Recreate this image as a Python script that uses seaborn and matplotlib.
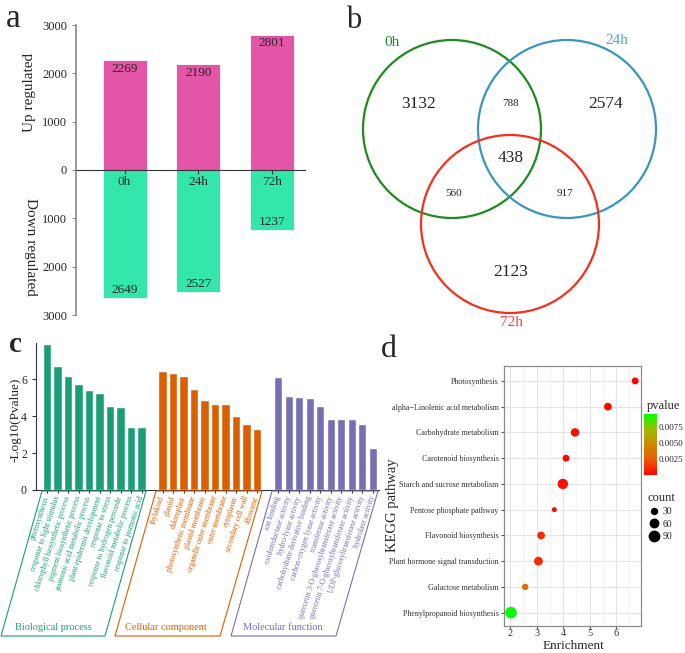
import numpy as np
import pandas as pd
import seaborn as sns
import matplotlib.pyplot as plt
from matplotlib.patches import Circle, Polygon
from matplotlib.colors import LinearSegmentedColormap, Normalize
from matplotlib.cm import ScalarMappable
from matplotlib.lines import Line2D
from matplotlib.ticker import FuncFormatter

# ---- panel a : up / down regulated genes
TIMES = ["0h", "24h", "72h"]
UP = [2269, 2190, 2801]
DOWN = [2649, 2527, 1237]

# ---- panel b : venn counts
VENN_REGIONS = ["0h", "0h&24h", "24h", "all", "0h&72h", "24h&72h", "72h"]
VENN_COUNTS = [3132, 788, 2574, 438, 560, 917, 2123]

# ---- panel c : GO enrichment
BP_TERMS = ["photosynthesis", "response to light stimulus", "chlorophyll biosynthetic process",
            "pigment biosynthetic process", "jasmonic acid metabolic process",
            "plant epidermis development", "response to stress", "response to hydrogen peroxide",
            "flavonoid metabolic process", "response to jasmonic acid"]
BP_VALS = [7.89, 6.70, 6.16, 5.71, 5.41, 5.23, 4.56, 4.50, 3.39, 3.39]
CC_TERMS = ["thylakoid", "plastid", "chloroplast", "photosynthetic membrane", "plastid membrane",
            "organelle outer membrane", "outer membrane", "cytoplasm", "secondary cell wall",
            "ribosome"]
CC_VALS = [6.45, 6.32, 6.14, 5.46, 4.86, 4.65, 4.65, 4.02, 3.57, 3.30]
MF_TERMS = ["ion binding", "oxidoreductase activity", "hydro-lyase activity",
            "carbohydrate derivative binding", "carbon-oxygen lyase activity",
            "transferase activity", "quercetin 3-O-glucosyltransferase activity",
            "quercetin 7-O-glucosyltransferase activity", "UDP-glucosyltransferase activity",
            "hydrolase activity"]
MF_VALS = [6.09, 5.08, 5.05, 4.95, 4.56, 3.84, 3.84, 3.84, 3.55, 2.27]
GO_GROUPS = ["Biological process", "Cellular component", "Molecular function"]

# ---- panel d : KEGG enrichment
PATHWAYS = ["Photosynthesis", "alpha\u2212Linolenic acid metabolism", "Carbohydrate metabolism",
            "Carotenoid biosynthesis", "Starch and sucrose metabolism", "Pentose phosphate pathway",
            "Flavonoid biosynthesis", "Plant hormone signal transduction", "Galactose metabolism",
            "Phenylpropanoid biosynthesis"]
ENRICH = [6.72, 5.69, 4.45, 4.11, 3.99, 3.67, 3.17, 3.07, 2.57, 2.03]
PVALUE = [0.0001, 0.0002, 0.0003, 0.0003, 0.0004, 0.0002, 0.0012, 0.0011, 0.0036, 0.0095]
COUNT = [40, 50, 60, 40, 90, 20, 50, 65, 35, 115]
COUNT_LEGEND = [30, 60, 90]
PV_TICKS = [0.0025, 0.0050, 0.0075]

UP_COLOUR = "#E255A7"
DOWN_COLOUR = "#33E7AC"
GO_COLOURS = {"Biological process": "#1B9E77", "Cellular component": "#D95F02",
              "Molecular function": "#7570B3"}
VENN_COLOURS = {"0h": "#1E8B1E", "24h": "#3B96BE", "72h": "#F2301E"}
VENN_TEXT = {"0h": "#1E8B1E", "24h": "#5BA0D0", "72h": "#F04040"}

sns.set_style("white")
plt.rcParams["font.family"] = ["Liberation Serif", "DejaVu Serif"]

W, H = 685, 653
fig = plt.figure(figsize=(W / 100, H / 100), dpi=100)


def px_axes(x0, y0, x1, y1):
    return fig.add_axes([x0 / W, 1 - y1 / H, (x1 - x0) / W, (y1 - y0) / H])


# ================= a =================
ax_a = px_axes(76, 25, 305, 315)
df_a = pd.DataFrame({"time": TIMES, "up": UP, "down": [-d for d in DOWN]})
sns.barplot(data=df_a, x="time", y="up", color=UP_COLOUR, width=0.6, saturation=1,
            errorbar=None, edgecolor="white", linewidth=0.6, ax=ax_a)
sns.barplot(data=df_a, x="time", y="down", color=DOWN_COLOUR, width=0.6, saturation=1,
            errorbar=None, edgecolor="white", linewidth=0.6, ax=ax_a)
for i, (u, d) in enumerate(zip(UP, DOWN)):
    ax_a.text(i, u - 50, str(u), ha="center", va="top", fontsize=9.5)
    ax_a.text(i, -d + 40, str(d), ha="center", va="bottom", fontsize=9.5)
ax_a.set_axisbelow(False)
ax_a.set_ylim(-3000, 3000)
ax_a.set_xlim(-0.66, 2.45)
ax_a.set_yticks(np.arange(-3000, 3001, 1000))
ax_a.yaxis.set_major_formatter(FuncFormatter(lambda v, p: f"{abs(int(v))}"))
ax_a.spines["bottom"].set_position(("data", 0))
ax_a.spines["bottom"].set_color("#333333")
ax_a.spines["left"].set_color("#888888")
ax_a.spines["left"].set_linewidth(1.2)
for s in ["top", "right"]:
    ax_a.spines[s].set_visible(False)
ax_a.tick_params(axis="y", length=3, labelsize=9, color="#888888", left=True)
ax_a.tick_params(axis="x", length=3, labelsize=9.5, pad=1, bottom=True, color="#333333")
ax_a.set_xlabel("")
ax_a.set_ylabel("")

# ================= c =================
ax_c = px_axes(36, 343, 379, 490)
pos = list(range(10)) + list(range(11, 21)) + list(range(22, 32))
df_c = pd.DataFrame({
    "pos": pos,
    "term": BP_TERMS + CC_TERMS + MF_TERMS,
    "value": BP_VALS + CC_VALS + MF_VALS,
    "group": [GO_GROUPS[0]] * 10 + [GO_GROUPS[1]] * 10 + [GO_GROUPS[2]] * 10,
})
sns.barplot(data=df_c, x="pos", y="value", hue="group", palette=GO_COLOURS, native_scale=True,
            width=0.79, dodge=False, saturation=1, legend=False, ax=ax_c)
ax_c.set_xlim(-1.05, 31.6)
ax_c.set_ylim(0, 7.95)
ax_c.set_yticks([0, 2, 4, 6])
ax_c.set_xticks(pos)
ax_c.set_xticklabels(df_c["term"], rotation=72, ha="right", va="center",
                     rotation_mode="anchor", fontsize=5.5)
for lab, g in zip(ax_c.get_xticklabels(), df_c["group"]):
    lab.set_color(GO_COLOURS[g])
ax_c.tick_params(axis="x", length=2.5, pad=2, bottom=True, color="#333333")
ax_c.tick_params(axis="y", length=3, labelsize=8.5, left=True, color="#333333")
for s in ["top", "right"]:
    ax_c.spines[s].set_visible(False)
ax_c.spines["left"].set_color("#333333")
ax_c.spines["bottom"].set_color("#333333")
ax_c.set_xlabel("")
ax_c.set_ylabel("-Log10(Pvalue)", fontsize=9.5)
ax_c.yaxis.set_label_coords((22 - 36) / 343, 0.48)

# ================= d =================
ax_d = px_axes(504, 366, 641, 626)
pv_cmap = LinearSegmentedColormap.from_list(
    "pv", ["#FF0000", "#EA5A00", "#CC8A00", "#9EBC00", "#00FF00"])
pv_norm = Normalize(0, 0.0096)
df_d = pd.DataFrame({"pathway": PATHWAYS, "enrichment": ENRICH, "pvalue": PVALUE,
                     "count": COUNT})
sns.scatterplot(data=df_d, x="enrichment", y="pathway", hue="pvalue", size="count",
                palette=pv_cmap, hue_norm=pv_norm, sizes=(0.62 * 20, 0.62 * 120),
                size_norm=(20, 120), legend=False, edgecolor="none", zorder=3, ax=ax_d)
ax_d.set_xlim(1.77, 6.94)
ax_d.set_ylim(9.52, -0.58)
ax_d.set_xticks([2, 3, 4, 5, 6])
ax_d.set_xticks(np.arange(2.5, 7.0, 1.0), minor=True)
ax_d.set_axisbelow(True)
ax_d.grid(which="major", color="#E2E2E8", lw=0.8)
ax_d.grid(which="minor", axis="x", color="#EFEFF3", lw=0.5)
ax_d.tick_params(axis="y", labelsize=5.8, length=2.5, left=True, pad=1.5,
                 color="#555555", labelcolor="#333333")
ax_d.tick_params(axis="x", labelsize=7.5, length=2, bottom=True, pad=0.5,
                 color="#555555", labelcolor="#333333")
ax_d.tick_params(which="minor", length=0)
for s in ax_d.spines.values():
    s.set_color("#8A8A8A")
    s.set_linewidth(0.9)
ax_d.set_xlabel("Enrichment", fontsize=9.5)
ax_d.set_ylabel("KEGG pathway", fontsize=10.5)
ax_d.xaxis.set_label_coords((573 - 504) / 137, -(640 - 626) / 260)
ax_d.yaxis.set_label_coords((399 - 504) / 137, (626 - 505) / 260)

cax = px_axes(644, 414, 657, 475)
cb = fig.colorbar(ScalarMappable(norm=pv_norm, cmap=pv_cmap), cax=cax, ticks=PV_TICKS)
cb.outline.set_visible(False)
cb.ax.tick_params(labelsize=6.5, length=3, color="white", direction="in", pad=1.5)
cb.ax.yaxis.set_major_formatter(FuncFormatter(lambda v, p: f"{v:.4f}"))
fig.text(647 / W, 1 - 409 / H, "pvalue", fontsize=9, ha="left", va="baseline")

handles = [Line2D([], [], ls="", marker="o", color="black",
                  markersize=np.sqrt(0.62 * c)) for c in COUNT_LEGEND]
fig.legend(handles, [str(c) for c in COUNT_LEGEND], title="count", loc="upper left",
           bbox_to_anchor=(643 / W, 1 - 487 / H), frameon=False, fontsize=7,
           title_fontsize=9, handletextpad=0.3, labelspacing=0.35, borderpad=0,
           handlelength=1.2, alignment="left")

# ================= overlay: venn, boxes, panel letters =================
ov = fig.add_axes([0, 0, 1, 1])
ov.set_xlim(0, W)
ov.set_ylim(H, 0)
ov.axis("off")
ov.patch.set_alpha(0)

circles = {"0h": (452, 129), "24h": (567, 129), "72h": (510, 224)}
for name, (cx, cy) in circles.items():
    ov.add_patch(Circle((cx, cy), 89, fill=False, ec=VENN_COLOURS[name], lw=1.6))
set_label_pos = {"0h": (392, 43), "24h": (617, 40), "72h": (511, 322)}
for name, (tx, ty) in set_label_pos.items():
    ov.text(tx, ty, name, color=VENN_TEXT[name], fontsize=11, ha="center", va="center")
region_pos = {"0h": (419, 104), "0h&24h": (511, 104), "24h": (606, 104), "all": (511, 158),
              "0h&72h": (454, 193), "24h&72h": (565, 193), "72h": (511, 272)}
small_regions = ["0h&24h", "0h&72h", "24h&72h"]
for reg, n in zip(VENN_REGIONS, VENN_COUNTS):
    tx, ty = region_pos[reg]
    ov.text(tx, ty, str(n), fontsize=8 if reg in small_regions else 12.5,
            ha="center", va="center")

boxes = [((42, 491), (146, 491), (105, 636), (1, 636)),
         ((156, 491), (262, 491), (220, 636), (115, 636)),
         ((272, 491), (378, 491), (336, 636), (231, 636))]
title_x = [53, 166, 283]
for g, pts, tx in zip(GO_GROUPS, boxes, title_x):
    ov.add_patch(Polygon(pts, closed=True, fill=False, ec=GO_COLOURS[g], lw=0.8))
    ov.text(tx, 628, g, color=GO_COLOURS[g], fontsize=7.5, ha="center", va="center")

ov.text(30, 92, "Up regulated", rotation=90, fontsize=11, ha="center", va="center")
ov.text(30, 247, "Down regulated", rotation=270, fontsize=11, ha="center", va="center")

ov.text(6, 27, "a", fontsize=24, ha="left", va="baseline")
ov.text(346, 28, "b", fontsize=22, ha="left", va="baseline")
ov.text(9, 352, "c", fontsize=21, fontweight="bold", ha="left", va="baseline")
ov.text(381, 357, "d", fontsize=23, ha="left", va="baseline")

fig.savefig("out.png", dpi=100)
